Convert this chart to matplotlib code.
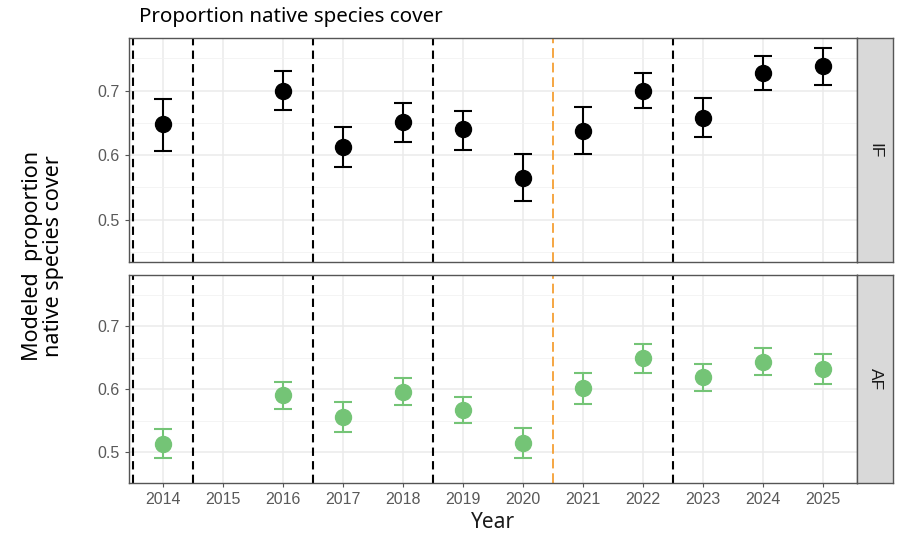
"""Proportion native species cover by year, faceted IF / AF."""
import matplotlib
matplotlib.use("Agg")
import matplotlib.pyplot as plt

years = [2014, 2016, 2017, 2018, 2019, 2020, 2021, 2022, 2023, 2024, 2025]
all_years = list(range(2014, 2026))

if_mean = [0.648, 0.700, 0.613, 0.651, 0.640, 0.565, 0.638, 0.700, 0.658, 0.728, 0.738]
if_low = [0.607, 0.670, 0.582, 0.621, 0.608, 0.529, 0.602, 0.673, 0.628, 0.701, 0.708]
if_high = [0.687, 0.730, 0.643, 0.681, 0.669, 0.602, 0.674, 0.727, 0.688, 0.753, 0.766]

af_mean = [0.512, 0.590, 0.555, 0.596, 0.567, 0.514, 0.602, 0.650, 0.619, 0.644, 0.632]
af_low = [0.490, 0.568, 0.532, 0.575, 0.546, 0.490, 0.577, 0.626, 0.597, 0.622, 0.608]
af_high = [0.536, 0.612, 0.579, 0.618, 0.588, 0.538, 0.626, 0.672, 0.640, 0.666, 0.656]

black_breaks = [2013.5, 2014.5, 2016.5, 2018.5, 2022.5]
orange_break = 2020.5

W, H = 897, 541
fig = plt.figure(figsize=(W / 100, H / 100), dpi=100)
fig.patch.set_facecolor("white")

tick_font = "Liberation Sans"
label_font = "Noto Sans"


def px_axes(x0, y0, x1, y1):
    return fig.add_axes([x0 / W, (H - y1) / H, (x1 - x0) / W, (y1 - y0) / H])


def draw_panel(ax, mean, low, high, color, ylim, show_x):
    ax.set_xlim(2013.43, 2025.58)
    ax.set_ylim(*ylim)
    ax.set_xticks(all_years)
    ax.set_yticks([0.5, 0.6, 0.7])
    ax.set_yticks([0.45, 0.55, 0.65, 0.75], minor=True)
    ax.grid(True, which="major", color="#EBEBEB", linewidth=1.1, zorder=0)
    ax.grid(True, which="minor", axis="y", color="#F2F2F2", linewidth=0.6, zorder=0)
    ax.set_axisbelow(True)
    for x in black_breaks:
        ax.axvline(x, color="black", linestyle=(0, (4, 2.5)), linewidth=1.5, zorder=2)
    ax.axvline(orange_break, color="#F5A642", linestyle=(0, (5, 2.5)), linewidth=1.4, zorder=2)
    yerr = [[m - l for m, l in zip(mean, low)], [h - m for m, h in zip(mean, high)]]
    ax.errorbar(years, mean, yerr=yerr, fmt="o", color=color, ecolor=color,
                markersize=11.5, elinewidth=1.5, capsize=6.5, capthick=1.5, zorder=3)
    for s in ax.spines.values():
        s.set_color("#555555")
        s.set_linewidth(1.0)
    ax.tick_params(axis="both", which="major", length=3, color="#555555",
                   labelcolor="#595959", labelsize=11.5)
    ax.tick_params(axis="y", which="minor", length=0)
    for lbl in ax.get_xticklabels() + ax.get_yticklabels():
        lbl.set_fontfamily(tick_font)
    if not show_x:
        ax.tick_params(axis="x", labelbottom=False, length=0)


def draw_strip(y0, y1, text):
    sax = px_axes(857.3, y0, 893.3, y1)
    sax.set_facecolor("#D9D9D9")
    sax.set_xticks([])
    sax.set_yticks([])
    for s in sax.spines.values():
        s.set_color("#555555")
        s.set_linewidth(1.0)
    sax.text(0.5, 0.5, text, rotation=-90, ha="center", va="center",
             fontsize=12.5, color="#1A1A1A", family=tick_font, transform=sax.transAxes)


top = px_axes(129, 38.3, 857.3, 262.3)
draw_panel(top, if_mean, if_low, if_high, "black", (0.434, 0.781), False)
draw_strip(38.3, 262.3, "IF")

bottom = px_axes(129, 275, 857.3, 483.3)
draw_panel(bottom, af_mean, af_low, af_high, "#74C476", (0.458, 0.782), True)
draw_strip(275, 483.3, "AF")

fig.text(139 / W, 1 - 17 / H, "Proportion native species cover", ha="left", va="center",
         fontsize=14.8, family=label_font, color="black")
fig.text(43 / W, 1 - 256 / H, "Modeled  proportion\nnative species cover", ha="center",
         va="center", rotation=90, fontsize=15.5, family=label_font, color="black",
         linespacing=1.05)
fig.text(493 / W, 1 - 523 / H, "Year", ha="center", va="center",
         fontsize=15, family=label_font, color="#1A1A1A")

fig.savefig("out.png", dpi=100)
